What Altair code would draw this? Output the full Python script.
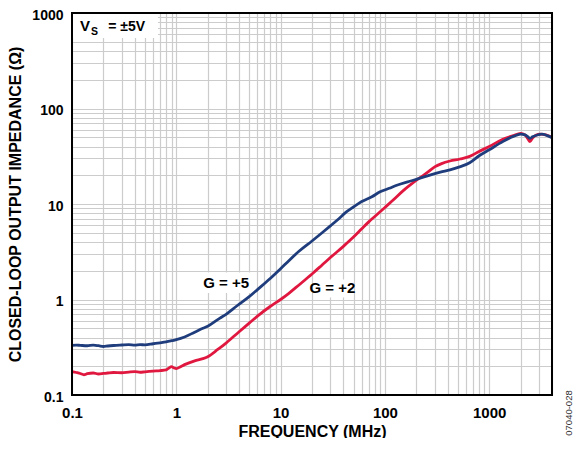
import altair as alt
import pandas as pd

# ---- data ----
freq_g5 = [0.1, 0.11, 0.12, 0.14, 0.16, 0.18, 0.2, 0.22, 0.25, 0.3, 0.35, 0.4, 0.45, 0.5,
           0.6, 0.7, 0.8, 0.9, 1.0, 1.2, 1.5, 1.8, 2.0, 2.6, 3.0, 3.8, 5.0, 6.0, 8.0, 10,
           12, 15, 20, 25, 30, 35, 43, 50, 60, 75, 90, 110, 130, 170, 210, 270, 340, 420,
           520, 650, 800, 1000, 1350, 1700, 2000, 2200, 2350, 2460, 2600, 2900, 3200, 3600, 4000]
z_g5 = [0.330, 0.333, 0.331, 0.328, 0.333, 0.328, 0.322, 0.326, 0.330, 0.334, 0.337, 0.333,
        0.337, 0.335, 0.344, 0.352, 0.360, 0.370, 0.380, 0.405, 0.455, 0.50, 0.525, 0.635,
        0.70, 0.855, 1.07, 1.27, 1.67, 2.10, 2.55, 3.2, 4.1, 5.0, 5.9, 6.8, 8.3, 9.3, 10.6,
        11.9, 13.4, 14.6, 15.7, 17.2, 18.4, 20.1, 21.6, 22.8, 24.5, 27.0, 32.0, 37.0, 45,
        51, 54, 53, 50.5, 48.7, 50.5, 52.8, 53.8, 52, 49.5]

freq_g2 = [0.1, 0.11, 0.12, 0.13, 0.14, 0.16, 0.18, 0.2, 0.22, 0.25, 0.3, 0.35, 0.4, 0.45,
           0.5, 0.6, 0.7, 0.8, 0.85, 0.9, 0.95, 1.0, 1.1, 1.2, 1.5, 1.8, 2.0, 2.5, 3.0, 4.0,
           5.0, 6.0, 8.0, 10, 12, 15, 20, 25, 30, 40, 50, 60, 70, 80, 100, 120, 150, 180,
           210, 250, 300, 350, 420, 525, 650, 800, 1000, 1350, 1700, 2000, 2200, 2350, 2460,
           2600, 2800, 3100, 3500, 4000]
z_g2 = [0.176, 0.172, 0.168, 0.163, 0.167, 0.170, 0.166, 0.168, 0.170, 0.172, 0.171, 0.174,
        0.176, 0.173, 0.175, 0.178, 0.180, 0.183, 0.192, 0.198, 0.192, 0.189, 0.198, 0.208,
        0.228, 0.240, 0.252, 0.300, 0.350, 0.460, 0.565, 0.670, 0.850, 1.00, 1.16, 1.42,
        1.85, 2.3, 2.75, 3.6, 4.5, 5.5, 6.5, 7.4, 9.2, 11.0, 13.8, 16.2, 18.4, 21.0, 24.5,
        26.5, 28.2, 29.6, 31.5, 35.5, 40, 47.5, 52, 55, 53, 48, 45, 49, 52.5, 54, 53, 50]

series_names = ["G = +5", "G = +2"]
series_colors = ["#1f3d7c", "#e0173f"]

x_grid_values = [0.1, 0.2, 0.3, 0.4, 0.5, 0.6, 0.7, 0.8, 0.9,
                 1, 2, 3, 4, 5, 6, 7, 8, 9,
                 10, 20, 30, 40, 50, 60, 70, 80, 90,
                 100, 200, 300, 400, 500, 600, 700, 800, 900,
                 1000, 2000, 3000, 4000]
y_grid_values = [0.1, 0.2, 0.3, 0.4, 0.5, 0.6, 0.7, 0.8, 0.9,
                 1, 2, 3, 4, 5, 6, 7, 8, 9,
                 10, 20, 30, 40, 50, 60, 70, 80, 90,
                 100, 200, 300, 400, 500, 600, 700, 800, 900, 1000]

# annotation labels (data coordinates)
label_text = ["G = +5", "G = +2"]
label_x = [3.0, 31.4]
label_y = [1.48, 1.31]
box_x = [1.55, 24.5]
box_x2 = [5.7, 43.0]
box_y = [1.17, 1.05]
box_y2 = [1.92, 1.62]

vs_box = dict(x=0.1, x2=0.667, y=547, y2=1000)
vs_text_parts = ["V", "S", "= ±5V"]
vs_text_x = [0.1194, 0.1520, 0.2229]
vs_text_y = [652.8, 588.0, 652.8]
vs_text_size = [15, 10.5, 14]

W, H = 480, 382
FONT = "Liberation Sans"

df = pd.concat([
    pd.DataFrame({"freq": freq_g2, "z": z_g2, "series": series_names[1]}),
    pd.DataFrame({"freq": freq_g5, "z": z_g5, "series": series_names[0]}),
])

xscale = alt.Scale(type="log", domain=[0.1, 4000], nice=False)
yscale = alt.Scale(type="log", domain=[0.1, 1000], nice=False)

label_expr = "abs(log(datum.value)/LN10 - round(log(datum.value)/LN10)) < 1e-6 ? format(datum.value, '~g') : ''"

x_axis = alt.Axis(values=x_grid_values, labelExpr=label_expr, title="FREQUENCY (MHz)",
                  ticks=False, tickSize=0, domain=False, labelPadding=10, labelFontSize=15,
                  labelFont=FONT, labelFontWeight="bold", labelColor="#000",
                  titleFont=FONT, titleFontSize=16, titleFontWeight="bold", titleColor="#000",
                  titleBaseline="middle", titleY=36, labelOverlap=False, labelFlush=False,
                  grid=True, gridColor="#cccccc", gridWidth=1.2)
y_axis = alt.Axis(values=y_grid_values, labelExpr=label_expr,
                  title="CLOSED-LOOP OUTPUT IMPEDANCE (Ω)",
                  ticks=False, tickSize=0, domain=False, labelPadding=9, labelFontSize=14,
                  labelOffset=2,
                  labelFont=FONT, labelFontWeight="bold", labelColor="#000",
                  titleFont=FONT, titleFontSize=16, titleFontWeight="bold", titleColor="#000",
                  titleBaseline="middle", titleX=-57, labelOverlap=False, labelFlush=False,
                  grid=True, gridColor="#cccccc", gridWidth=1.2)

boxes_df = pd.DataFrame({"x": box_x + [vs_box["x"]], "x2": box_x2 + [vs_box["x2"]],
                         "y": box_y + [vs_box["y"]], "y2": box_y2 + [vs_box["y2"]]})
boxes = alt.Chart(boxes_df).mark_rect(fill="white").encode(
    x=alt.X("x:Q", scale=xscale, axis=x_axis),
    x2="x2:Q",
    y=alt.Y("y:Q", scale=yscale, axis=y_axis),
    y2="y2:Q",
)

lines = alt.Chart(df).mark_line(strokeWidth=2.8, interpolate="monotone").encode(
    x=alt.X("freq:Q", scale=xscale),
    y=alt.Y("z:Q", scale=yscale),
    color=alt.Color("series:N", scale=alt.Scale(domain=series_names, range=series_colors), legend=None),
    detail="series:N",
    order=alt.Order("freq:Q"),
)

labels_df = pd.DataFrame({"t": label_text, "x": label_x, "y": label_y})
labels = alt.Chart(labels_df).mark_text(font=FONT, fontSize=15, fontWeight="bold", color="#000",
                                        align="center", baseline="middle").encode(
    x=alt.X("x:Q", scale=xscale), y=alt.Y("y:Q", scale=yscale), text="t:N")

vs_df = pd.DataFrame({"t": vs_text_parts, "x": vs_text_x, "y": vs_text_y, "size": vs_text_size})
vs_text = alt.Chart(vs_df).mark_text(font=FONT, fontWeight="bold", color="#000",
                                     align="left", baseline="alphabetic").encode(
    x=alt.X("x:Q", scale=xscale), y=alt.Y("y:Q", scale=yscale), text="t:N",
    size=alt.Size("size:Q", scale=None, legend=None))

frame_df = pd.DataFrame({"a": [0]})
frame = alt.Chart(frame_df).mark_rect(filled=False, stroke="#000", strokeWidth=2).encode(
    x=alt.value(0), x2=alt.value(W), y=alt.value(0), y2=alt.value(H))

code = alt.Chart(frame_df).mark_text(font=FONT, fontSize=9.5, color="#333", angle=270,
                                     align="center", baseline="middle").encode(
    x=alt.value(497), y=alt.value(400), text=alt.value("07040-028"))

chart = alt.layer(boxes, lines, labels, vs_text, frame, code).properties(
    width=W, height=H,
    autosize=alt.AutoSizeParams(type="none"),
    padding={"left": 64, "top": 5, "right": 25, "bottom": 43},
).configure_view(stroke=None).configure(background="white")

chart.save("out.html", embed_options={"renderer": "svg", "actions": False})
